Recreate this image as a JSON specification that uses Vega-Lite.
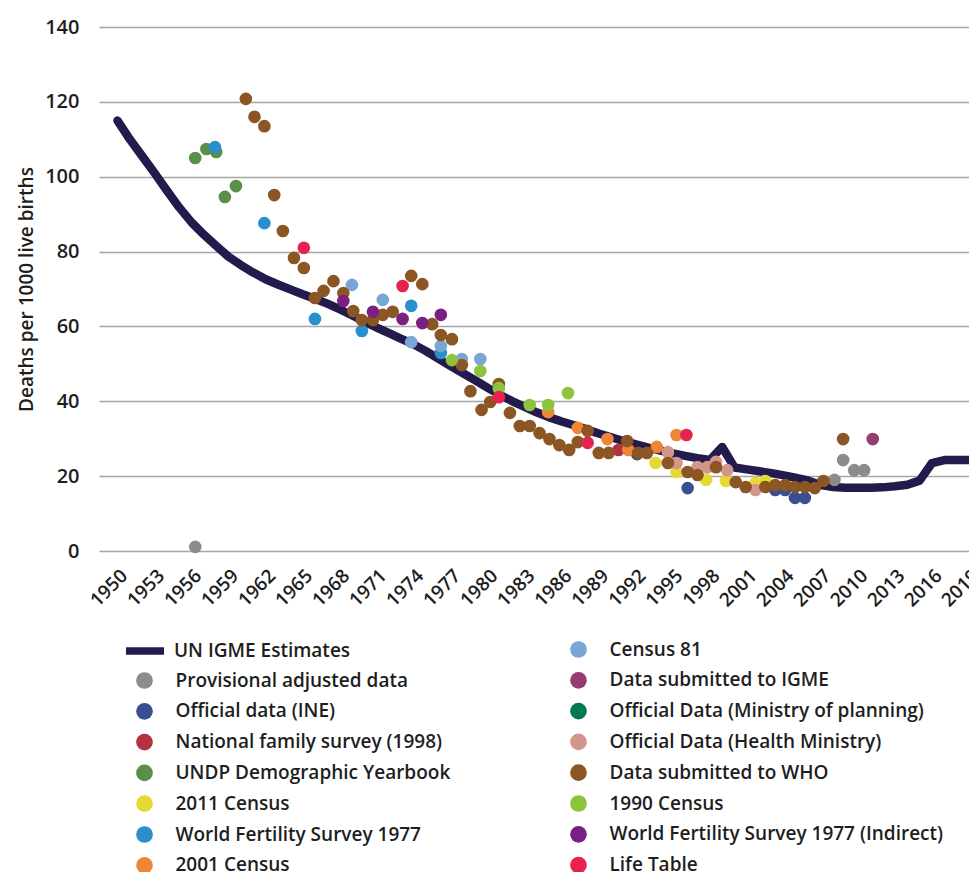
{
  "$schema": "https://vega.github.io/schema/vega-lite/v6.json",
  "width": 870,
  "height": 524,
  "autosize": {"type": "none"},
  "padding": {"left": 99, "top": 27, "right": 0, "bottom": 321},
  "config": {
    "view": {"stroke": null},
    "font": "Open Sans",
    "axis": {"labelColor": "#1e1e1e", "titleColor": "#1e1e1e", "labelFont": "Open Sans", "titleFont": "Open Sans"},
    "axisX": {"format": "d", "grid": false, "domain": false, "ticks": false, "labelOverlap": false, "labelBound": false, "labelFlush": false,
      "labelAngle": -45, "labelFontSize": 19, "labelFontWeight": 600, "labelPadding": 15, "title": null},
    "axisY": {"titleFontSize": 19, "titleFontWeight": 600,
      "titlePadding": 8, "grid": true, "gridColor": "#a6a6a6", "gridWidth": 1.5, "domain": false, "ticks": false,
      "labelPadding": 20, "labelFontSize": 20, "labelFontWeight": 600},
    "legend": {"labelFont": "Open Sans", "labelFontSize": 19, "labelFontWeight": 600, "labelColor": "#1e1e1e", "labelLimit": 500, "padding": 0, "rowPadding": 10.8, "title": null}
  },
  "datasets": {
    "igme": [
      {"year": 1950, "value": 115.0}, {"year": 1951, "value": 110.0}, {"year": 1952, "value": 105.5}, {"year": 1953, "value": 101.0},
      {"year": 1954, "value": 96.3}, {"year": 1955, "value": 91.8}, {"year": 1956, "value": 87.8}, {"year": 1957, "value": 84.5},
      {"year": 1958, "value": 81.5}, {"year": 1959, "value": 78.6}, {"year": 1960, "value": 76.4}, {"year": 1961, "value": 74.4},
      {"year": 1962, "value": 72.6}, {"year": 1963, "value": 71.2}, {"year": 1964, "value": 69.9}, {"year": 1965, "value": 68.6},
      {"year": 1966, "value": 67.4}, {"year": 1967, "value": 66.1}, {"year": 1968, "value": 64.6}, {"year": 1969, "value": 63.0},
      {"year": 1970, "value": 61.3}, {"year": 1971, "value": 59.7}, {"year": 1972, "value": 58.2}, {"year": 1973, "value": 56.7},
      {"year": 1974, "value": 55.2}, {"year": 1975, "value": 53.4}, {"year": 1976, "value": 51.4}, {"year": 1977, "value": 49.4},
      {"year": 1978, "value": 47.5}, {"year": 1979, "value": 45.6}, {"year": 1980, "value": 43.6}, {"year": 1981, "value": 41.7},
      {"year": 1982, "value": 40.0}, {"year": 1983, "value": 38.5}, {"year": 1984, "value": 37.0}, {"year": 1985, "value": 35.7},
      {"year": 1986, "value": 34.6}, {"year": 1987, "value": 33.6}, {"year": 1988, "value": 32.5}, {"year": 1989, "value": 31.4},
      {"year": 1990, "value": 30.4}, {"year": 1991, "value": 29.4}, {"year": 1992, "value": 28.5}, {"year": 1993, "value": 27.6},
      {"year": 1994, "value": 26.8}, {"year": 1995, "value": 26.1}, {"year": 1996, "value": 25.4}, {"year": 1997, "value": 24.8},
      {"year": 1998, "value": 24.3}, {"year": 1999, "value": 27.8}, {"year": 2000, "value": 22.3}, {"year": 2001, "value": 21.8},
      {"year": 2002, "value": 21.3}, {"year": 2003, "value": 20.8}, {"year": 2004, "value": 20.2}, {"year": 2005, "value": 19.5},
      {"year": 2006, "value": 18.8}, {"year": 2007, "value": 17.6}, {"year": 2008, "value": 17.1}, {"year": 2009, "value": 16.9},
      {"year": 2010, "value": 16.9}, {"year": 2011, "value": 16.9}, {"year": 2012, "value": 17.0}, {"year": 2013, "value": 17.3},
      {"year": 2014, "value": 17.7}, {"year": 2015, "value": 18.8}, {"year": 2016, "value": 23.5}, {"year": 2017, "value": 24.3},
      {"year": 2018, "value": 24.3}, {"year": 2019, "value": 24.3}
    ],
    "pts1": [
      {"source": "Provisional adjusted data", "year": 1956.3, "value": 1.1},
      {"source": "Provisional adjusted data", "year": 2008.1, "value": 19.0},
      {"source": "Provisional adjusted data", "year": 2008.8, "value": 24.3},
      {"source": "Provisional adjusted data", "year": 2009.7, "value": 21.6},
      {"source": "Provisional adjusted data", "year": 2010.5, "value": 21.6},
      {"source": "Official data (INE)", "year": 1992.1, "value": 25.9},
      {"source": "Official data (INE)", "year": 1996.2, "value": 16.8},
      {"source": "Official data (INE)", "year": 2003.3, "value": 16.3},
      {"source": "Official data (INE)", "year": 2004.1, "value": 16.3},
      {"source": "Official data (INE)", "year": 2004.9, "value": 14.2},
      {"source": "Official data (INE)", "year": 2005.7, "value": 14.2},
      {"source": "National family survey (1998)", "year": 1990.6, "value": 27.0},
      {"source": "UNDP Demographic Yearbook", "year": 1956.3, "value": 105.0},
      {"source": "UNDP Demographic Yearbook", "year": 1957.2, "value": 107.4},
      {"source": "UNDP Demographic Yearbook", "year": 1958.0, "value": 106.6},
      {"source": "UNDP Demographic Yearbook", "year": 1958.7, "value": 94.6},
      {"source": "UNDP Demographic Yearbook", "year": 1959.6, "value": 97.5},
      {"source": "2011 Census", "year": 1993.6, "value": 23.5},
      {"source": "2011 Census", "year": 1995.3, "value": 21.1},
      {"source": "2011 Census", "year": 1997.7, "value": 19.0},
      {"source": "2011 Census", "year": 1999.3, "value": 18.7},
      {"source": "2011 Census", "year": 2001.7, "value": 18.2},
      {"source": "2011 Census", "year": 2002.5, "value": 18.7},
      {"source": "World Fertility Survey 1977", "year": 1957.9, "value": 107.9},
      {"source": "World Fertility Survey 1977", "year": 1961.9, "value": 87.6},
      {"source": "World Fertility Survey 1977", "year": 1966.0, "value": 62.0},
      {"source": "World Fertility Survey 1977", "year": 1969.8, "value": 58.8},
      {"source": "World Fertility Survey 1977", "year": 1973.8, "value": 65.5},
      {"source": "World Fertility Survey 1977", "year": 1976.2, "value": 52.9},
      {"source": "2001 Census", "year": 1984.9, "value": 37.1},
      {"source": "2001 Census", "year": 1987.3, "value": 32.9},
      {"source": "2001 Census", "year": 1989.7, "value": 29.9},
      {"source": "2001 Census", "year": 1991.4, "value": 27.0},
      {"source": "2001 Census", "year": 1993.7, "value": 27.8},
      {"source": "2001 Census", "year": 1995.3, "value": 31.0}
    ],
    "pts2": [
      {"source": "Census 81", "year": 1969.0, "value": 71.1},
      {"source": "Census 81", "year": 1971.5, "value": 67.1},
      {"source": "Census 81", "year": 1973.8, "value": 55.8},
      {"source": "Census 81", "year": 1976.2, "value": 54.8},
      {"source": "Census 81", "year": 1977.9, "value": 51.3},
      {"source": "Census 81", "year": 1979.4, "value": 51.3},
      {"source": "Official Data (Health Ministry)", "year": 1994.6, "value": 26.4},
      {"source": "Official Data (Health Ministry)", "year": 1995.3, "value": 23.5},
      {"source": "Official Data (Health Ministry)", "year": 1997.0, "value": 22.4},
      {"source": "Official Data (Health Ministry)", "year": 1997.8, "value": 22.4},
      {"source": "Official Data (Health Ministry)", "year": 1998.5, "value": 23.8},
      {"source": "Official Data (Health Ministry)", "year": 1999.4, "value": 21.6},
      {"source": "Official Data (Health Ministry)", "year": 2001.7, "value": 16.3},
      {"source": "Data submitted to IGME", "year": 2011.2, "value": 29.9},
      {"source": "Data submitted to WHO", "year": 1960.4, "value": 120.8},
      {"source": "Data submitted to WHO", "year": 1961.1, "value": 116.0},
      {"source": "Data submitted to WHO", "year": 1961.9, "value": 113.5},
      {"source": "Data submitted to WHO", "year": 1962.7, "value": 95.1},
      {"source": "Data submitted to WHO", "year": 1963.4, "value": 85.5},
      {"source": "Data submitted to WHO", "year": 1964.3, "value": 78.3},
      {"source": "Data submitted to WHO", "year": 1965.1, "value": 75.6},
      {"source": "Data submitted to WHO", "year": 1966.0, "value": 67.6},
      {"source": "Data submitted to WHO", "year": 1966.7, "value": 69.5},
      {"source": "Data submitted to WHO", "year": 1967.5, "value": 72.1},
      {"source": "Data submitted to WHO", "year": 1968.3, "value": 68.9},
      {"source": "Data submitted to WHO", "year": 1969.1, "value": 64.1},
      {"source": "Data submitted to WHO", "year": 1969.8, "value": 61.7},
      {"source": "Data submitted to WHO", "year": 1970.7, "value": 61.7},
      {"source": "Data submitted to WHO", "year": 1971.5, "value": 63.1},
      {"source": "Data submitted to WHO", "year": 1972.3, "value": 63.9},
      {"source": "Data submitted to WHO", "year": 1973.8, "value": 73.5},
      {"source": "Data submitted to WHO", "year": 1974.7, "value": 71.3},
      {"source": "Data submitted to WHO", "year": 1975.5, "value": 60.6},
      {"source": "Data submitted to WHO", "year": 1976.2, "value": 57.7},
      {"source": "Data submitted to WHO", "year": 1977.1, "value": 56.6},
      {"source": "Data submitted to WHO", "year": 1977.9, "value": 49.7},
      {"source": "Data submitted to WHO", "year": 1978.6, "value": 42.7},
      {"source": "Data submitted to WHO", "year": 1979.5, "value": 37.7},
      {"source": "Data submitted to WHO", "year": 1980.2, "value": 39.8},
      {"source": "Data submitted to WHO", "year": 1980.9, "value": 44.6},
      {"source": "Data submitted to WHO", "year": 1981.8, "value": 36.9},
      {"source": "Data submitted to WHO", "year": 1982.6, "value": 33.4},
      {"source": "Data submitted to WHO", "year": 1983.4, "value": 33.4},
      {"source": "Data submitted to WHO", "year": 1984.2, "value": 31.5},
      {"source": "Data submitted to WHO", "year": 1985.0, "value": 29.9},
      {"source": "Data submitted to WHO", "year": 1985.8, "value": 28.3},
      {"source": "Data submitted to WHO", "year": 1986.6, "value": 27.0},
      {"source": "Data submitted to WHO", "year": 1987.3, "value": 29.1},
      {"source": "Data submitted to WHO", "year": 1988.1, "value": 32.1},
      {"source": "Data submitted to WHO", "year": 1989.0, "value": 26.2},
      {"source": "Data submitted to WHO", "year": 1989.8, "value": 26.2},
      {"source": "Data submitted to WHO", "year": 1991.3, "value": 29.4},
      {"source": "Data submitted to WHO", "year": 1992.2, "value": 26.2},
      {"source": "Data submitted to WHO", "year": 1992.9, "value": 26.2},
      {"source": "Data submitted to WHO", "year": 1994.6, "value": 23.5},
      {"source": "Data submitted to WHO", "year": 1996.2, "value": 21.1},
      {"source": "Data submitted to WHO", "year": 1997.0, "value": 20.3},
      {"source": "Data submitted to WHO", "year": 1998.5, "value": 22.4},
      {"source": "Data submitted to WHO", "year": 2000.1, "value": 18.4},
      {"source": "Data submitted to WHO", "year": 2000.9, "value": 17.1},
      {"source": "Data submitted to WHO", "year": 2002.5, "value": 17.1},
      {"source": "Data submitted to WHO", "year": 2003.3, "value": 17.6},
      {"source": "Data submitted to WHO", "year": 2004.1, "value": 17.6},
      {"source": "Data submitted to WHO", "year": 2004.9, "value": 17.1},
      {"source": "Data submitted to WHO", "year": 2005.7, "value": 17.1},
      {"source": "Data submitted to WHO", "year": 2006.5, "value": 16.8},
      {"source": "Data submitted to WHO", "year": 2007.2, "value": 18.7},
      {"source": "Data submitted to WHO", "year": 2008.8, "value": 29.9},
      {"source": "1990 Census", "year": 1977.1, "value": 51.0},
      {"source": "1990 Census", "year": 1979.4, "value": 48.1},
      {"source": "1990 Census", "year": 1980.9, "value": 43.5},
      {"source": "1990 Census", "year": 1983.4, "value": 39.0},
      {"source": "1990 Census", "year": 1984.9, "value": 39.0},
      {"source": "1990 Census", "year": 1986.5, "value": 42.2},
      {"source": "World Fertility Survey 1977 (Indirect)", "year": 1968.3, "value": 66.8},
      {"source": "World Fertility Survey 1977 (Indirect)", "year": 1970.7, "value": 63.9},
      {"source": "World Fertility Survey 1977 (Indirect)", "year": 1973.1, "value": 62.0},
      {"source": "World Fertility Survey 1977 (Indirect)", "year": 1974.7, "value": 60.9},
      {"source": "World Fertility Survey 1977 (Indirect)", "year": 1976.2, "value": 63.1},
      {"source": "Life Table", "year": 1965.1, "value": 81.0},
      {"source": "Life Table", "year": 1973.1, "value": 70.8},
      {"source": "Life Table", "year": 1980.9, "value": 41.1},
      {"source": "Life Table", "year": 1988.1, "value": 28.9},
      {"source": "Life Table", "year": 1996.1, "value": 31.0}
    ]
  },
  "layer": [
    {
      "data": {"name": "igme"},
      "mark": {"type": "line", "strokeWidth": 8.5, "strokeCap": "round", "strokeJoin": "round"},
      "encoding": {
        "x": {"field": "year", "type": "quantitative", "scale": {"domain": [1948.5, 2019], "nice": false, "zero": false},
          "axis": {"labelOverlap": false, "labelFontSize": 19, "labelFontWeight": 600, "labelAngle": -45, "labelPadding": 15, "values": [1950, 1953, 1956, 1959, 1962, 1965, 1968, 1971, 1974, 1977, 1980, 1983, 1986, 1989, 1992, 1995, 1998, 2001, 2004, 2007, 2010, 2013, 2016, 2019]}},
        "y": {"field": "value", "type": "quantitative", "scale": {"domain": [0, 140], "nice": false},
          "axis": {"title": "Deaths per 1000 live births", "values": [0, 20, 40, 60, 80, 100, 120, 140]}},
        "color": {"datum": "UN IGME Estimates", "type": "nominal",
          "scale": {"domain": ["UN IGME Estimates"], "range": ["#231b4c"]},
          "legend": {"orient": "none", "legendX": 23, "legendY": 601, "symbolType": "stroke", "symbolSize": 1444, "symbolStrokeWidth": 7.5, "labelOffset": 6}}
      }
    },
    {
      "data": {"name": "pts1"},
      "mark": {"type": "circle", "size": 160, "opacity": 1},
      "encoding": {
        "x": {"field": "year", "type": "quantitative",
          "axis": {"labelOverlap": false, "labelFontSize": 19, "labelFontWeight": 600, "labelAngle": -45, "labelPadding": 15, "values": [1950, 1953, 1956, 1959, 1962, 1965, 1968, 1971, 1974, 1977, 1980, 1983, 1986, 1989, 1992, 1995, 1998, 2001, 2004, 2007, 2010, 2013, 2016, 2019]}},
        "y": {"field": "value", "type": "quantitative",
          "axis": {"title": "Deaths per 1000 live births", "values": [0, 20, 40, 60, 80, 100, 120, 140]}},
        "color": {"field": "source", "type": "nominal",
          "scale": {"domain": ["Provisional adjusted data", "Official data (INE)", "National family survey (1998)", "UNDP Demographic Yearbook", "2011 Census", "World Fertility Survey 1977", "2001 Census"],
            "range": ["#8c8c8c", "#3a4f8f", "#b3323d", "#5a8f4b", "#e6d935", "#2a8fcd", "#ee8636"]},
          "legend": {"orient": "none", "legendX": 36, "legendY": 644, "symbolType": "circle", "symbolSize": 279, "labelOffset": 21.5}}
      }
    },
    {
      "data": {"name": "pts2"},
      "mark": {"type": "circle", "size": 160, "opacity": 1},
      "encoding": {
        "x": {"field": "year", "type": "quantitative",
          "axis": {"labelOverlap": false, "labelFontSize": 19, "labelFontWeight": 600, "labelAngle": -45, "labelPadding": 15, "values": [1950, 1953, 1956, 1959, 1962, 1965, 1968, 1971, 1974, 1977, 1980, 1983, 1986, 1989, 1992, 1995, 1998, 2001, 2004, 2007, 2010, 2013, 2016, 2019]}},
        "y": {"field": "value", "type": "quantitative",
          "axis": {"title": "Deaths per 1000 live births", "values": [0, 20, 40, 60, 80, 100, 120, 140]}},
        "color": {"field": "source", "type": "nominal",
          "scale": {"domain": ["Census 81", "Data submitted to IGME", "Official Data (Ministry of planning)", "Official Data (Health Ministry)", "Data submitted to WHO", "1990 Census", "World Fertility Survey 1977 (Indirect)", "Life Table"],
            "range": ["#7aa6d6", "#953d70", "#007a55", "#d3968c", "#8b5524", "#8cc43d", "#7b1f82", "#e6234f"]},
          "legend": {"orient": "none", "legendX": 470, "legendY": 613, "symbolType": "circle", "symbolSize": 279, "labelOffset": 21.5}}
      }
    }
  ],
  "resolve": {"scale": {"color": "independent"}, "legend": {"color": "independent"}}
}
